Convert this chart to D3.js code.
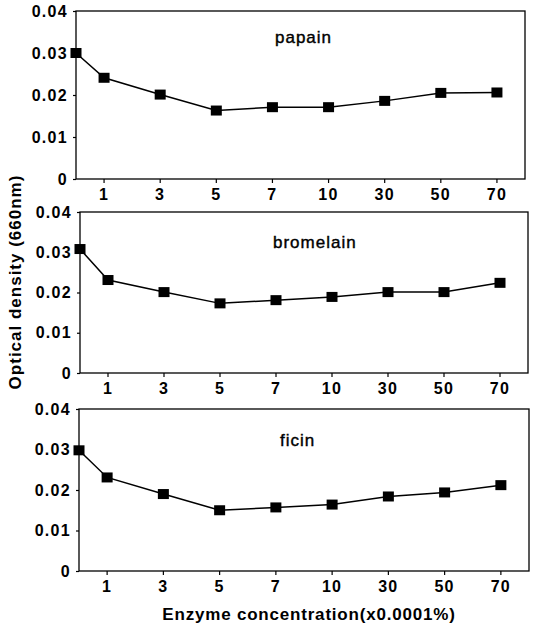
<!DOCTYPE html>
<html>
<head>
<meta charset="utf-8">
<script src="https://cdn.jsdelivr.net/npm/d3@7"></script>
<style>
  body { margin: 0; background: #fff; }
  svg { display: block; font-family: "Liberation Sans", Arial, sans-serif; }
</style>
</head>
<body>
<div id="chart"></div>
<script>
// concentrations (x0.0001%), the first one (0) sits on the y axis
var concentrations = ["0", "1", "3", "5", "7", "10", "30", "50", "70"];
var tickLabels = ["1", "3", "5", "7", "10", "30", "50", "70"];
var yTicks = [0, 0.01, 0.02, 0.03, 0.04];

var papain    = [0.0300, 0.0241, 0.0201, 0.0163, 0.0171, 0.0171, 0.0186, 0.0205, 0.0206];
var bromelain = [0.0308, 0.0231, 0.0201, 0.0173, 0.0181, 0.0189, 0.0201, 0.0201, 0.0224];
var ficin     = [0.0298, 0.0231, 0.0190, 0.0150, 0.0157, 0.0164, 0.0184, 0.0194, 0.0212];

var enzymes = ["papain", "bromelain", "ficin"];
var series = [papain, bromelain, ficin];

// panel boxes (pixels)
var panels = [
  {left: 76, right: 525, top: 11,  bottom: 179, labelX: 275, labelY: 43},
  {left: 80, right: 528, top: 212, bottom: 373, labelX: 273, labelY: 248},
  {left: 79, right: 529, top: 409, bottom: 571, labelX: 280, labelY: 446}
];

var W = 537, H = 626;
var svg = d3.select("#chart").append("svg").attr("width", W).attr("height", H);

var fmt = function(d){ return d === 0 ? "0" : d3.format(".2f")(d); };

var styleTicks = function(a){
  a.select(".domain").remove();
  a.selectAll("line").attr("stroke-width", 1.2);
  a.selectAll("text").attr("font-size", 16).attr("font-weight", "bold").attr("fill", "#000")
    .attr("letter-spacing", "1.3px")
    .attr("font-family", "Liberation Sans, Arial, sans-serif");
};

panels.forEach(function(p, k){
  var x = d3.scaleBand().domain(tickLabels).range([p.left, p.right]).padding(0);
  var y = d3.scaleLinear().domain([0, 0.04]).range([p.bottom, p.top]);
  var px = function(c){ return c === "0" ? x.range()[0] : x(c) + x.bandwidth() / 2; };

  var g = svg.append("g");

  // frame
  g.append("rect")
    .attr("x", p.left).attr("y", p.top)
    .attr("width", p.right - p.left).attr("height", p.bottom - p.top)
    .attr("fill", "none").attr("stroke", "#000").attr("stroke-width", 1.3);

  g.append("g").attr("transform", "translate(0," + p.bottom + ")")
    .call(d3.axisBottom(x).tickSize(4).tickPadding(6))
    .call(styleTicks);

  g.append("g").attr("transform", "translate(" + p.left + ",0)")
    .call(d3.axisLeft(y).tickValues(yTicks).tickFormat(fmt).tickSize(3).tickPadding(5))
    .call(styleTicks);

  var data = concentrations.map(function(c, i){ return {c: c, v: series[k][i]}; });

  var line = d3.line().x(function(d){ return px(d.c); }).y(function(d){ return y(d.v); });
  g.append("path").datum(data)
    .attr("d", line).attr("fill", "none").attr("stroke", "#000").attr("stroke-width", 1.5);

  var s = 11;
  g.selectAll("rect.pt").data(data).enter().append("rect")
    .attr("class", "pt")
    .attr("x", function(d){ return px(d.c) - s / 2; })
    .attr("y", function(d){ return y(d.v) - s / 2 + 0.5; })
    .attr("width", s).attr("height", s - 1)
    .attr("fill", "#000");

  g.append("text")
    .attr("x", p.labelX).attr("y", p.labelY)
    .attr("font-size", 17).attr("fill", "#000")
    .attr("letter-spacing", "1px")
    .attr("stroke", "#000").attr("stroke-width", 0.4)
    .text(enzymes[k]);
});

// axis titles
svg.append("text")
  .attr("transform", "translate(21,282) rotate(-90)")
  .attr("text-anchor", "middle")
  .attr("font-size", 17).attr("font-weight", "bold")
  .attr("letter-spacing", "1px")
  .text("Optical density (660nm)");

svg.append("text")
  .attr("x", 309).attr("y", 620)
  .attr("text-anchor", "middle")
  .attr("font-size", 17).attr("font-weight", "bold")
  .attr("letter-spacing", "0.8px")
  .text("Enzyme concentration(x0.0001%)");
</script>
</body>
</html>
